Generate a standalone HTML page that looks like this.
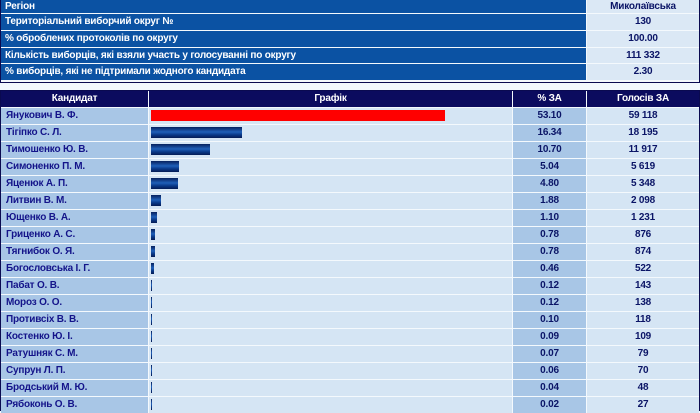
<!DOCTYPE html>
<html><head><meta charset="utf-8"><style>
body{margin:0;width:700px;height:411px;overflow:hidden;background:#f2f8fd;font-family:"Liberation Sans","DejaVu Sans",sans-serif;font-weight:bold;font-size:10px;letter-spacing:-0.2px;position:relative}
.a{position:absolute;box-sizing:border-box;white-space:nowrap;line-height:16px}
.tl{background:#0b52a3;color:#fff;padding-left:4px}
.tr{background:#dbe8f5;color:#0a1466;text-align:center}
.h{background:#0b0b5e;color:#fff;text-align:center;line-height:15px}
.n{background:#a8c6e6;color:#14148a;padding-left:5px}
.g{background:#d5e5f4}
.p{background:#a8c6e6;color:#0a1466;text-align:center}
.v{background:#d5e5f4;color:#0a1466;text-align:center}
.bar{position:absolute;height:11px;background:linear-gradient(#06215e,#1f5fb8 45%,#0a3a8a 70%,#041b55)}
</style></head><body>
<div class="a" style="left:0;top:0;width:700px;height:83px;background:#f4f9fd;border:1px solid #0a0a50;border-top:0"></div>
<div id="top"></div>
<div class="a" style="left:0;top:90px;width:700px;height:321px;background:#f4f9fd;border:1px solid #0a0a50;border-bottom:0"></div>
<div class="a h" style="left:1px;top:91px;width:147px;height:16px">Кандидат</div>
<div class="a h" style="left:149px;top:91px;width:363px;height:16px">Графік</div>
<div class="a h" style="left:513px;top:91px;width:73px;height:16px">% ЗА</div>
<div class="a h" style="left:587px;top:91px;width:112px;height:16px">Голосів ЗА</div>
<div id="rows"></div>
<script>
const topLabels=["Регіон","Територіальний виборчий округ №","% оброблених протоколів по округу","Кількість виборців, які взяли участь у голосуванні по округу","% виборців, які не підтримали жодного кандидата"];
const topValues=["Миколаївська","130","100.00","111 332","2.30"];
const candidates=["Янукович В. Ф.","Тігіпко С. Л.","Тимошенко Ю. В.","Симоненко П. М.","Яценюк А. П.","Литвин В. М.","Ющенко В. А.","Гриценко А. С.","Тягнибок О. Я.","Богословська І. Г.","Пабат О. В.","Мороз О. О.","Противсіх В. В.","Костенко Ю. І.","Ратушняк С. М.","Супрун Л. П.","Бродський М. Ю.","Рябоконь О. В."];
const percents=[53.10,16.34,10.70,5.04,4.80,1.88,1.10,0.78,0.78,0.46,0.12,0.12,0.10,0.09,0.07,0.06,0.04,0.02];
const votes=["59 118","18 195","11 917","5 619","5 348","2 098","1 231","876","874","522","143","138","118","109","79","70","48","27"];
const T=document.getElementById('top');
const tops=[0,14,31,48,64],hs=[13,16,16,15,16];
topLabels.forEach((l,i)=>{
 const a=document.createElement('div');a.className='a tl';
 
 
 a.style.cssText=`left:1px;top:${tops[i]}px;width:585px;height:${hs[i]}px;line-height:${hs[i]}px`;a.textContent=l;T.appendChild(a);
 const b=document.createElement('div');b.className='a tr';
 
 
 b.style.cssText=`left:587px;top:${tops[i]}px;width:112px;height:${hs[i]}px;line-height:${hs[i]}px`;b.textContent=topValues[i];T.appendChild(b);
});
const R=document.getElementById('rows');
const x0=151,scale=5.54;
const xs=v=>Math.max(1,v*scale);
candidates.forEach((c,i)=>{
 const y=108+17*i;
 const n=document.createElement('div');n.className='a n';
 
 
 n.style.cssText=`left:1px;top:${y}px;width:147px;height:16px`;n.textContent=c;R.appendChild(n);
 const g=document.createElement('div');g.className='a g';
 
 
 g.style.cssText=`left:149px;top:${y}px;width:363px;height:16px`;R.appendChild(g);
 const b=document.createElement('div');b.className='bar';
 
 
 b.style.cssText=`left:${x0}px;top:${y+2}px;width:${xs(percents[i])}px;`+(i===0?'background:#ff0000;':'');R.appendChild(b);
 const p=document.createElement('div');p.className='a p';
 
 
 p.style.cssText=`left:513px;top:${y}px;width:73px;height:16px`;p.textContent=percents[i].toFixed(2);R.appendChild(p);
 const v=document.createElement('div');v.className='a v';
 
 
 v.style.cssText=`left:587px;top:${y}px;width:112px;height:16px`;v.textContent=votes[i];R.appendChild(v);
});
</script>
</body></html>
